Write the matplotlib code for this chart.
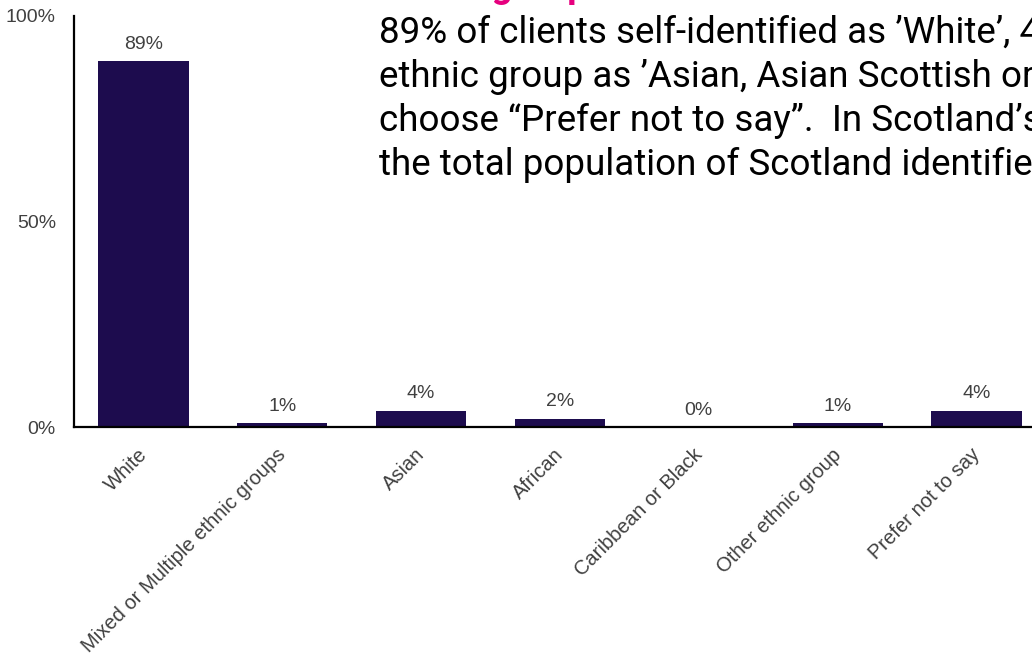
import matplotlib.pyplot as plt
from matplotlib.transforms import ScaledTranslation

# Ethnic group of clients (% of respondents)
categories = ['White', 'Mixed or Multiple ethnic groups', 'Asian', 'African',
              'Caribbean or Black', 'Other ethnic group', 'Prefer not to say']
shares = [89, 1, 4, 2, 0, 1, 4]

y_ticks = [0, 50, 100]
y_tick_labels = ['0%', '50%', '100%']

summary_lines = [
    "89% of clients self-identified as ’White’, 4% identified their",
    "ethnic group as ’Asian, Asian Scottish or Asian British’ and 4%",
    "choose “Prefer not to say”.  In Scotland’s 2011 Census, 96% of",
    "the total population of Scotland identified as White.",
]

bar_colour = '#1d0c4e'
label_grey = '#404040'

fig = plt.figure(figsize=(10.32, 6.53), dpi=100)
ax = fig.add_axes([74 / 1032, 1 - 427 / 653, 1 - 74 / 1032, 411 / 653])

x = list(range(len(categories)))
bars = ax.bar(x, shares, width=0.65, color=bar_colour)
ax.bar_label(bars, labels=[f'{v}%' for v in shares], padding=6,
             fontsize=14, color=label_grey, family='Liberation Sans')

ax.set_xlim(-0.5, 6.4)
ax.set_ylim(0, 100)
ax.set_yticks(y_ticks)
ax.set_yticklabels(y_tick_labels, fontsize=14, color=label_grey, family='Liberation Sans')
ax.set_xticks(x)
ax.set_xticklabels(categories, rotation=45, ha='right', rotation_mode='anchor',
                   fontsize=14.5, color=label_grey, family='Liberation Sans')
ax.tick_params(axis='both', length=0)
ax.tick_params(axis='y', pad=13)
ax.tick_params(axis='x', pad=13)

# nudge the slanted category labels a little to the left
shift = ScaledTranslation(-0.06, 0, fig.dpi_scale_trans)
for lbl in ax.get_xticklabels():
    lbl.set_transform(lbl.get_transform() + shift)

for side in ['top', 'right']:
    ax.spines[side].set_visible(False)
for side in ['left', 'bottom']:
    ax.spines[side].set_linewidth(1.6)
    ax.spines[side].set_color('black')

# heading sits mostly above the top edge
fig.text(379 / 1032, 1 + 3 / 653, 'Ethnic groups', fontsize=26.5, fontweight='bold',
         color='#e6007e', family='Roboto', ha='left', va='baseline')

for i, line in enumerate(summary_lines):
    fig.text(379 / 1032, 1 - (43 + 44 * i) / 653, line, fontsize=26.5,
             family='Roboto', color='black', ha='left', va='baseline')

fig.savefig('out.png', dpi=100)
